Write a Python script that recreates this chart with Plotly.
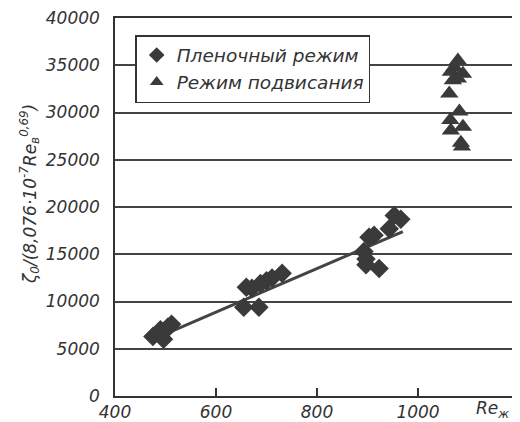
import plotly.graph_objects as go

# Data
film_re = [475, 490, 499, 496, 505, 512, 655, 660, 671, 685, 688, 700, 711, 731,
           893, 897, 897, 903, 913, 923, 943, 953, 966]
film_z = [6300, 7000, 6900, 6000, 7300, 7600, 9400, 11500, 11400, 9400, 11900, 12200, 12500, 13000,
          15300, 14500, 13900, 16800, 17000, 13500, 17700, 19100, 18700]

susp_re = [1079, 1072, 1065, 1089, 1079, 1069, 1062, 1082, 1064, 1065, 1089, 1085, 1087]
susp_z = [35500, 34800, 34300, 34100, 33600, 33400, 32000, 30100, 29200, 28100, 28500, 26800, 26400]

fit_re = [475, 970]
fit_z = [6000, 17400]

x_ticks = [400, 600, 800, 1000]
y_ticks = [0, 5000, 10000, 15000, 20000, 25000, 30000, 35000, 40000]

series_names = ["Пленочный режим", "Режим подвисания"]

INK = "#3a3a3a"
FONT = dict(family="DejaVu Sans", size=17, color="#333333", style="italic")

fig = go.Figure()
fig.add_trace(go.Scatter(x=fit_re, y=fit_z, mode="lines",
                         line=dict(color="#444444", width=3), showlegend=False))
fig.add_trace(go.Scatter(x=film_re, y=film_z, mode="markers", name=series_names[0],
                         marker=dict(symbol="diamond", size=15, color=INK)))
fig.add_trace(go.Scatter(x=susp_re, y=susp_z, mode="markers", name=series_names[1],
                         marker=dict(symbol="triangle-up", size=16, color=INK)))

# page body has an 8px default margin, so the figure is 512x414 placed at (8,8)
fig.update_layout(
    width=512, height=414,
    margin=dict(l=107, r=1, t=10, b=26),
    paper_bgcolor="white", plot_bgcolor="white",
    font=FONT,
    showlegend=True,
    legend=dict(x=0.05, y=0.955, xanchor="left", yanchor="top",
                bgcolor="white", bordercolor="#333333", borderwidth=1.5,
                font=dict(family="DejaVu Sans", size=18.5, color="#333333", style="italic"),
                itemsizing="constant", tracegroupgap=0),
    xaxis=dict(range=[400, 1200], tickvals=x_ticks, ticktext=[str(v) for v in x_ticks],
               showgrid=False, zeroline=False, automargin=False,
               showline=True, linecolor="#333333", linewidth=1.5, mirror=True,
               ticks="inside", ticklen=8, tickcolor="#333333", tickwidth=1.5,
               tickfont=FONT, ticklabeloverflow="allow"),
    yaxis=dict(range=[0, 40000], tickvals=y_ticks, ticktext=[str(v) for v in y_ticks],
               showgrid=True, gridcolor="#444444", gridwidth=1.5, zeroline=False,
               automargin=False,
               showline=True, linecolor="#333333", linewidth=1.5, mirror=True,
               ticks="", ticklabelstandoff=10, tickfont=FONT, ticklabeloverflow="allow"),
)

fig.add_annotation(xref="paper", yref="paper", x=-0.21, y=0.535, showarrow=False,
                   textangle=-90, xanchor="center", yanchor="middle", font=FONT,
                   text="ζ<sub>0</sub>/(8,076·10<sup>-7</sup>Re<sub>в</sub><sup>0,69</sup>)")

fig.add_annotation(x=1148, y=0, xref="x", yref="y", yshift=-13, showarrow=False,
                   text="Re<sub>ж</sub>", font=FONT, xanchor="center", yanchor="middle")

fig.write_html("out.html")
